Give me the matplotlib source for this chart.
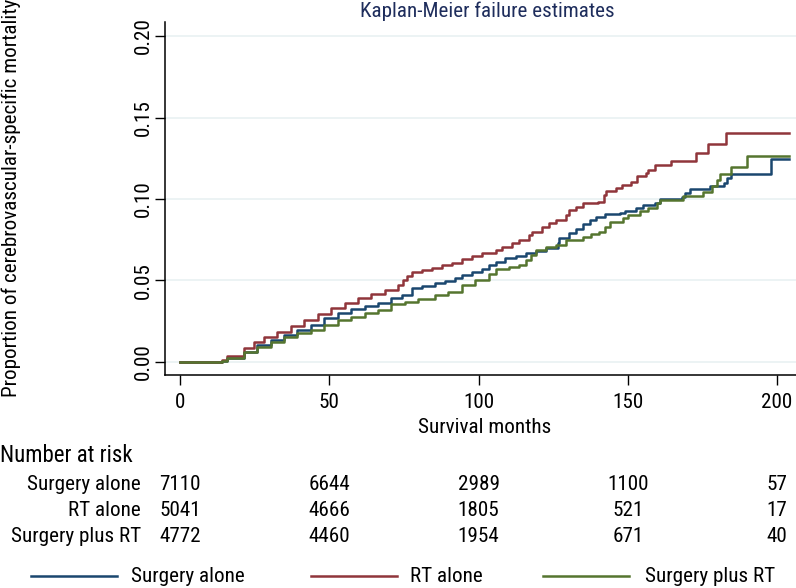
import matplotlib
matplotlib.use("Agg")
import matplotlib.pyplot as plt
import matplotlib.transforms as mtransforms
from matplotlib import font_manager

names = {f.name for f in font_manager.fontManager.ttflist}
FAMILY = None
for cand in ["Liberation Sans Narrow", "Arial Narrow", "Roboto Condensed",
             "Open Sans Condensed", "DejaVu Sans Condensed"]:
    if cand in names:
        FAMILY = cand
        break
if FAMILY is not None:
    FS = 15.2
    plt.rcParams['font.family'] = [FAMILY, 'DejaVu Sans']
else:
    FS = 13.2
    plt.rcParams['font.family'] = ['Liberation Sans', 'DejaVu Sans']

# ---- data ----
surg_t = [0, 12.9, 14.0, 15.7, 21.4, 25.9, 30.4, 34.8, 39.3, 43.8, 48.3, 52.8, 57.3, 61.8, 66.3,
          70.8, 74.2, 77.6, 80.9, 85.4, 88.8, 92.2, 94.4, 97.8, 101.2, 103.4, 105.7, 109.0,
          112.4, 115.8, 119.1, 122.5, 126.5, 127.1, 130.4, 132.7, 134.9, 137.2, 139.4, 142.2,
          147.3, 149.0, 152.8, 155.1, 159.1, 160.8, 168.0, 169.2, 170.7, 177.4, 182.1, 183.3,
          184.4, 197.9, 203.9]
surg_v = [0, 0, 0.0008, 0.0023, 0.0063, 0.0104, 0.0135, 0.0166, 0.0196, 0.0227, 0.0268, 0.0299,
          0.0323, 0.0344, 0.0364, 0.0391, 0.0411, 0.0452, 0.0466, 0.0483, 0.0497, 0.0513,
          0.0534, 0.0554, 0.0569, 0.0595, 0.0616, 0.0636, 0.0650, 0.0667, 0.0681, 0.0697,
          0.0728, 0.0759, 0.0790, 0.0814, 0.0847, 0.0871, 0.0888, 0.0907, 0.0912, 0.0928,
          0.0943, 0.0963, 0.0977, 0.0998, 0.1010, 0.1035, 0.1059, 0.1080, 0.1101, 0.1127,
          0.1153, 0.1243, 0.1243]

rt_t = [0, 12.9, 14.0, 15.7, 21.4, 24.7, 28.1, 32.6, 37.1, 41.6, 46.1, 50.6, 55.1, 59.6, 64.1,
        68.6, 73.1, 74.8, 76.0, 77.6, 80.9, 84.3, 87.7, 91.1, 94.4, 97.8, 101.2, 105.7,
        107.9, 111.3, 113.6, 116.9, 118.0, 121.4, 123.7, 125.9, 129.3, 130.4, 132.7, 134.9,
        140.0, 141.9, 142.8, 145.9, 148.2, 150.9, 153.1, 156.0, 156.8, 159.1, 164.6, 172.9,
        176.7, 183.0, 203.9]
rt_v = [0, 0, 0.0010, 0.0037, 0.0084, 0.0125, 0.0152, 0.0186, 0.0221, 0.0258, 0.0293, 0.0329,
        0.0360, 0.0391, 0.0417, 0.0442, 0.0472, 0.0503, 0.0528, 0.0554, 0.0564, 0.0579,
        0.0595, 0.0605, 0.0630, 0.0650, 0.0667, 0.0687, 0.0707, 0.0728, 0.0748, 0.0779,
        0.0799, 0.0830, 0.0851, 0.0871, 0.0902, 0.0933, 0.0953, 0.0973, 0.0984, 0.1025,
        0.1051, 0.1069, 0.1086, 0.1106, 0.1141, 0.1157, 0.1180, 0.1209, 0.1235, 0.1280,
        0.1336, 0.1407, 0.1407]

srt_t = [0, 12.9, 14.0, 15.7, 21.4, 25.9, 30.4, 34.8, 39.3, 43.8, 48.3, 52.8, 57.3, 61.8, 66.3,
         70.8, 75.3, 79.8, 85.4, 89.9, 94.4, 98.9, 103.4, 105.7, 110.2, 113.6, 115.8, 117.4,
         119.1, 122.5, 125.9, 129.3, 134.9, 137.7, 140.3, 142.2, 143.9, 148.4, 150.1, 154.0,
         156.8, 159.6, 160.8, 168.6, 175.1, 178.2, 179.9, 180.8, 184.7, 190.0, 203.9]
srt_v = [0, 0, 0.0008, 0.0023, 0.0063, 0.0094, 0.0125, 0.0152, 0.0176, 0.0196, 0.0227, 0.0258,
         0.0278, 0.0299, 0.0319, 0.0356, 0.0370, 0.0385, 0.0411, 0.0431, 0.0472, 0.0503,
         0.0540, 0.0569, 0.0585, 0.0595, 0.0626, 0.0656, 0.0687, 0.0703, 0.0718, 0.0748,
         0.0769, 0.0785, 0.0799, 0.0830, 0.0861, 0.0885, 0.0902, 0.0928, 0.0943, 0.0973,
         0.0994, 0.1018, 0.1045, 0.1080, 0.1117, 0.1153, 0.1198, 0.1266, 0.1266]

groups = ["Surgery alone", "RT alone", "Surgery plus RT"]
risk_times = [0, 50, 100, 150, 200]
risk_surg = [7110, 6644, 2989, 1100, 57]
risk_rt = [5041, 4666, 1805, 521, 17]
risk_srt = [4772, 4460, 1954, 671, 40]

x_ticks = [0, 50, 100, 150, 200]
y_ticks = [0.00, 0.05, 0.10, 0.15, 0.20]

colors = ["#1a476f", "#90353b", "#55752f"]

fig = plt.figure(figsize=(7.96, 5.88), dpi=100)
W, H = 796, 588
ax = fig.add_axes([165 / W, 1 - 375 / H, 1 - 165 / W + 0.01, (375 - 22) / H])

for t, v, c, lab in zip([surg_t, rt_t, srt_t], [surg_v, rt_v, srt_v], colors, groups):
    ax.plot(t, v, drawstyle="steps-post", color=c, lw=1.8, label=lab, zorder=3)

ax.set_xlim(-5.06, 209)
ax.set_ylim(-0.008, 0.2086)
ax.set_xticks(x_ticks)
ax.set_xticklabels([str(x) for x in x_ticks], fontsize=FS)
ax.set_yticks(y_ticks)
ax.set_yticklabels([f"{y:.2f}" for y in y_ticks], fontsize=FS, rotation=90, va="center")
ax.tick_params(axis="both", direction="out", length=7, width=1, color="black")
ax.tick_params(axis="x", pad=6)
ax.tick_params(axis="y", pad=2)
for y in y_ticks:
    ax.axhline(y, color="#eaf2f3", lw=1.3, zorder=1)
for s in ["top", "right"]:
    ax.spines[s].set_visible(False)
for s in ["left", "bottom"]:
    ax.spines[s].set_linewidth(1.1)

ax.set_xlabel("Survival months", fontsize=FS, labelpad=4)
fig.text(11 / W, 1 - 198 / H, "Proportion of cerebrovascular-specific mortality",
         fontsize=FS, rotation=90, ha="center", va="center")
fig.text(487 / W, 1 - 11 / H, "Kaplan-Meier failure estimates", fontsize=FS,
         color="#1e2d5c", ha="center", va="center")

# number at risk table
trans = mtransforms.blended_transform_factory(ax.transData, fig.transFigure)
fig.text(0, 1 - 456 / H, "Number at risk", fontsize=FS * 1.085, ha="left", va="center")
rows_y = [485, 511, 537]
for lab, vals, yp in zip(groups, [risk_surg, risk_rt, risk_srt], rows_y):
    fig.text(141 / W, 1 - yp / H, lab, fontsize=FS, ha="right", va="center")
    for tt, n in zip(risk_times, vals):
        fig.text(tt, 1 - yp / H, str(n), fontsize=FS, ha="center", va="center",
                 transform=trans)

# legend
leg_x = [(31, 117, 131), (311, 397, 410), (543, 629, 645)]
ly = 1 - 576 / H
for (x0, x1, xt), c, lab in zip(leg_x, colors, groups):
    fig.add_artist(plt.Line2D([x0 / W, x1 / W], [ly, ly], color=c, lw=1.8,
                              transform=fig.transFigure))
    fig.text(xt / W, ly, lab, fontsize=FS, ha="left", va="center")

fig.savefig("out.png", dpi=100)
